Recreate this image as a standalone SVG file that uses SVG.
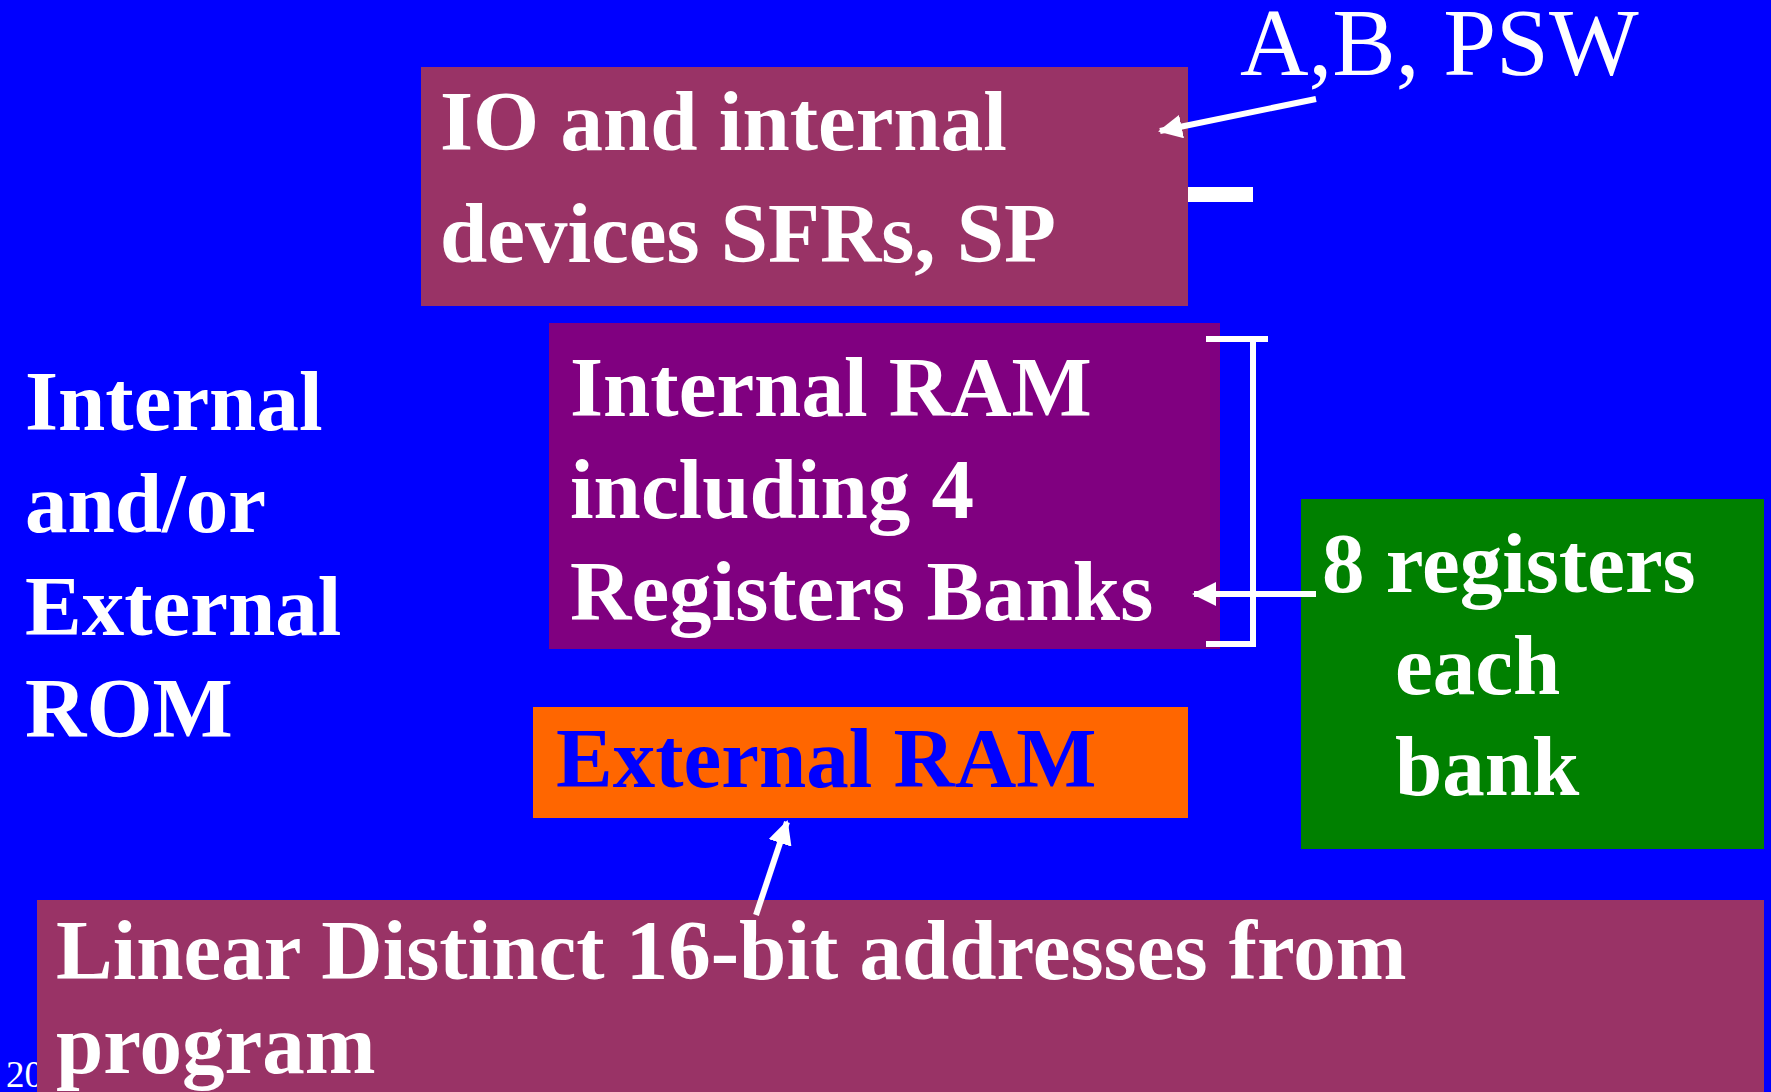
<svg xmlns="http://www.w3.org/2000/svg" width="1771" height="1092" viewBox="0 0 1771 1092">
  <style>
    .t { font-family: "Liberation Serif", "Times New Roman", serif; font-weight: bold; font-size: 85px; fill: #FFFFFF; }
    .reg { font-family: "Liberation Serif", "Times New Roman", serif; font-weight: normal; fill: #FFFFFF; }
    .wire { stroke: #FFFFFF; stroke-width: 6; fill: none; }
  </style>
  <defs>
    <marker id="head" markerUnits="userSpaceOnUse" markerWidth="26" markerHeight="24" refX="22" refY="12" orient="auto">
      <path d="M0,0 L24,12 L0,24 Z" fill="#FFFFFF"/>
    </marker>
  </defs>

  <!-- background -->
  <rect x="0" y="0" width="1771" height="1092" fill="#0000FF"/>

  <!-- page number, partly covered by the address box -->
  <text class="reg" x="6" y="1087" font-size="37">20</text>

  <!-- left-hand caption -->
  <g id="rom-label">
    <text class="t" x="25" y="430">Internal</text>
    <text class="t" x="25" y="532">and/or</text>
    <text class="t" x="25" y="635">External</text>
    <text class="t" x="25" y="737">ROM</text>
  </g>

  <!-- SFR area -->
  <g id="sfr">
    <rect x="421" y="67" width="767" height="239" fill="#993366"/>
    <text class="t" x="440" y="150" font-size="88" textLength="567" lengthAdjust="spacingAndGlyphs">IO and internal</text>
    <text class="t" x="440" y="262" font-size="88" textLength="616" lengthAdjust="spacingAndGlyphs">devices SFRs, SP</text>
  </g>

  <!-- accumulator / status label -->
  <g id="abpsw">
    <text class="reg" x="1240" y="75" font-size="95">A,B, PSW</text>
  </g>

  <!-- internal RAM -->
  <g id="iram">
    <rect x="549" y="323" width="671" height="326" fill="#800080"/>
    <text class="t" x="570" y="416">Internal RAM</text>
    <text class="t" x="570" y="518">including 4</text>
    <text class="t" x="570" y="620">Registers Banks</text>
  </g>

  <!-- external RAM -->
  <g id="xram">
    <rect x="533" y="707" width="655" height="111" fill="#FF6600"/>
    <text class="t" x="556" y="787" fill="#0000FF" style="fill:#0000FF">External RAM</text>
  </g>

  <!-- register bank note -->
  <g id="regs">
    <rect x="1301" y="499" width="463" height="350" fill="#008000"/>
    <text class="t" x="1322" y="592">8 registers</text>
    <text class="t" x="1395" y="694">each</text>
    <text class="t" x="1395" y="795">bank</text>
  </g>

  <!-- 16-bit address space -->
  <g id="addr">
    <rect x="37" y="900" width="1727" height="192" fill="#993366"/>
    <text class="t" x="56" y="979">Linear Distinct 16-bit addresses from</text>
    <text class="t" x="56" y="1073">program</text>
  </g>

  <!-- connectors -->
  <g id="connectors">
    <line class="wire" x1="1316" y1="99" x2="1160" y2="131" marker-end="url(#head)"/>
    <rect x="1188" y="187" width="65" height="15" fill="#FFFFFF"/>
    <path class="wire" d="M1206,339 H1268 M1253,339 V644 M1206,644 H1256"/>
    <line class="wire" x1="1316" y1="594" x2="1194" y2="594" marker-end="url(#head)"/>
    <line class="wire" x1="756" y1="915" x2="787" y2="822" marker-end="url(#head)"/>
  </g>
</svg>
